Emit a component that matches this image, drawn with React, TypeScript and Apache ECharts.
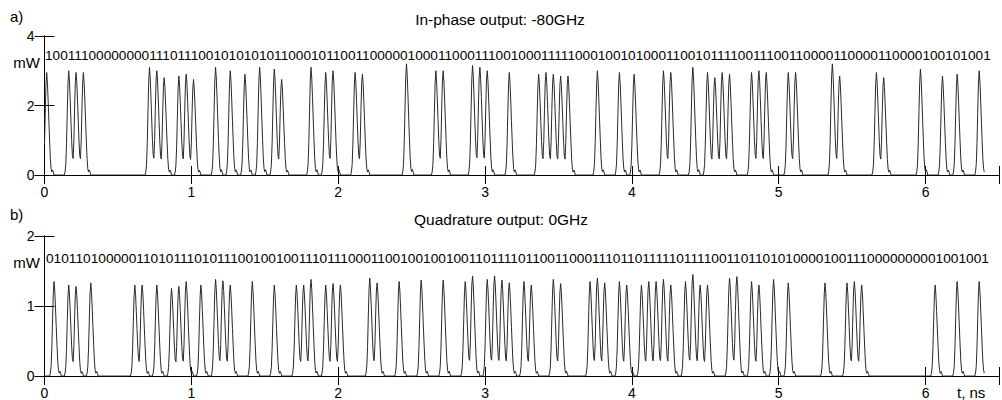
import React, { useEffect, useRef } from "react";
import * as echarts from "echarts";

// ---- data ----
const TOP_BITS =
  "1001110000000011101110010101010110001011001" +
  "1000001000110001110010001111100010010100011" +
  "001011110011100110000110000110000100101001";
const BOTTOM_BITS =
  "01011010000011010111010111001001001110111" +
  "00011001001001001101111011001100011101101111" +
  "1011110011011010100001001110000000001001001";

// peak power (mW) of each "1" pulse, in order
const TOP_PEAKS = [
  2.95, 3.0, 2.95, 2.95, 3.1, 3.0, 2.8, 2.85, 2.9, 2.75, 3.1, 3.0, 2.9, 3.1, 3.05, 2.75, 3.1, 2.95, 3.0, 2.95,
  2.9, 3.2, 3.0, 3.0, 3.15, 3.1, 3.0, 2.95, 2.9, 2.95, 2.9, 2.85, 2.85, 3.0, 2.95, 2.9, 3.0, 2.95,
  3.1, 2.95, 2.8, 2.95, 2.9, 2.95, 3.0, 2.95, 2.95, 2.95, 3.2, 2.85, 2.95, 2.8, 3.05, 2.85, 2.9, 3.0,
];
const BOTTOM_PEAKS = [
  1.35, 1.3, 1.28, 1.33, 1.3, 1.3, 1.3, 1.25, 1.28, 1.35, 1.3, 1.38, 1.36, 1.3, 1.35, 1.3, 1.3, 1.3, 1.38, 1.3, 1.32, 1.3,
  1.4, 1.33, 1.35, 1.37, 1.37, 1.35, 1.43, 1.38, 1.43, 1.37, 1.33, 1.35, 1.3, 1.38, 1.32, 1.35, 1.4, 1.33, 1.35, 1.3, 1.3, 1.35, 1.35, 1.38,
  1.3, 1.35, 1.45, 1.3, 1.3, 1.4, 1.42, 1.35, 1.3, 1.38, 1.33, 1.33, 1.33, 1.35, 1.3, 1.3, 1.35, 1.35,
];
// relative pulse shape, sampled every 0.005 ns (peak at index 6)
const PULSE_SHAPE = [0, 0.03, 0.1, 0.3, 0.6, 0.88, 1.0, 0.9, 0.72, 0.52, 0.33, 0.16, 0.06, 0.03, 0.05, 0.03, 0];
const PULSE_PEAK_INDEX = 6;
const PULSE_DELAY_SAMPLES = 3; // peak sits 0.015 ns after the bit start
const BIT_TIME = 0.05; // ns
const SAMPLES_PER_BIT = 10;

const TOP_TITLE = "In-phase output: -80GHz";
const BOTTOM_TITLE = "Quadrature output: 0GHz";

function buildWave(bits: string, peaks: number[]) {
  const n = bits.length * SAMPLES_PER_BIT;
  const vals: number[] = new Array(n + 1).fill(0);
  let k = 0;
  for (let b = 0; b < bits.length; b++) {
    if (bits[b] !== "1") continue;
    const p = peaks[k] !== undefined ? peaks[k] : peaks[peaks.length - 1];
    k++;
    const start = b * SAMPLES_PER_BIT + PULSE_DELAY_SAMPLES - PULSE_PEAK_INDEX;
    PULSE_SHAPE.forEach((s, j) => {
      const i = start + j;
      if (i >= 0 && i <= n) vals[i] += p * s;
    });
  }
  const dt = BIT_TIME / SAMPLES_PER_BIT;
  return vals.map((v, i) => [+(i * dt).toFixed(4), +v.toFixed(4)]);
}

const FONT = "'Liberation Sans', Arial, Helvetica, sans-serif";

export default function App() {
  const ref = useRef<HTMLDivElement>(null);
  useEffect(() => {
    if (!ref.current) return;
    const chart = echarts.init(ref.current, undefined, { renderer: "svg" });
    const intFmt = (v: number) => (Math.abs(v - Math.round(v)) < 1e-9 ? String(Math.round(v)) : "");
    const axisLine = { show: true, lineStyle: { color: "#000", width: 1 } };
    const mkX = (grid: number, pos: "bottom" | "top", labels: boolean) => ({
      type: "value",
      gridIndex: grid,
      position: pos,
      min: 0,
      max: 6.5,
      interval: 1,
      axisLine,
      axisTick: { show: true, inside: true, length: 9, lineStyle: { color: "#000" } },
      axisLabel: {
        show: labels,
        color: "#000",
        fontSize: 14,
        fontFamily: FONT,
        margin: 10,
        formatter: intFmt,
      },
      splitLine: { show: false },
    });
    const mkY = (grid: number, pos: "left" | "right", max: number, interval: number, labels: boolean) => ({
      type: "value",
      gridIndex: grid,
      position: pos,
      min: 0,
      max,
      interval,
      axisLine,
      axisTick: { show: true, inside: true, length: 10, lineStyle: { color: "#000" } },
      axisLabel: { show: labels, color: "#000", fontSize: 14, fontFamily: FONT, margin: 10, formatter: intFmt },
      splitLine: { show: false },
    });
    const txt = (text: string, x: number, y: number, size: number, align = "left") => ({
      type: "text",
      x,
      y,
      silent: true,
      style: {
        text,
        fill: "#000",
        fontSize: size,
        fontFamily: FONT,
        textAlign: align,
        textVerticalAlign: "middle",
      },
    });
    chart.setOption({
      animation: false,
      backgroundColor: "#fff",
      grid: [
        { left: 44.5, top: 36, width: 960, height: 139 },
        { left: 44.5, top: 236, width: 963, height: 140 },
      ],
      xAxis: [mkX(0, "bottom", true), mkX(0, "top", false), mkX(1, "bottom", true), mkX(1, "top", false)],
      yAxis: [
        mkY(0, "left", 4, 2, true),
        mkY(0, "right", 4, 2, false),
        mkY(1, "left", 2, 1, true),
        mkY(1, "right", 2, 1, false),
      ],
      series: [
        {
          type: "line",
          xAxisIndex: 0,
          yAxisIndex: 0,
          data: buildWave(TOP_BITS, TOP_PEAKS),
          showSymbol: false,
          silent: true,
          lineStyle: { color: "#2a2a2a", width: 1 },
        },
        {
          type: "line",
          xAxisIndex: 2,
          yAxisIndex: 2,
          data: buildWave(BOTTOM_BITS, BOTTOM_PEAKS),
          showSymbol: false,
          silent: true,
          lineStyle: { color: "#2a2a2a", width: 1 },
        },
      ],
      graphic: [
        txt("a)", 10, 16, 15),
        txt(TOP_TITLE, 500, 19, 15.5, "center"),
        txt(TOP_BITS, 45, 55, 13.65),
        txt("mW", 40, 62, 15, "right"),
        txt("b)", 10, 214, 15),
        txt(BOTTOM_TITLE, 501, 219, 15.5, "center"),
        txt(BOTTOM_BITS, 46, 258, 13.7),
        txt("mW", 40, 262, 15, "right"),
        txt("t, ns", 957, 392, 15),
      ],
    });
    return () => chart.dispose();
  }, []);
  return (
    <div
      ref={ref}
      style={{ position: "fixed", left: 0, top: 0, width: 1002, height: 400, background: "#fff" }}
    />
  );
}
